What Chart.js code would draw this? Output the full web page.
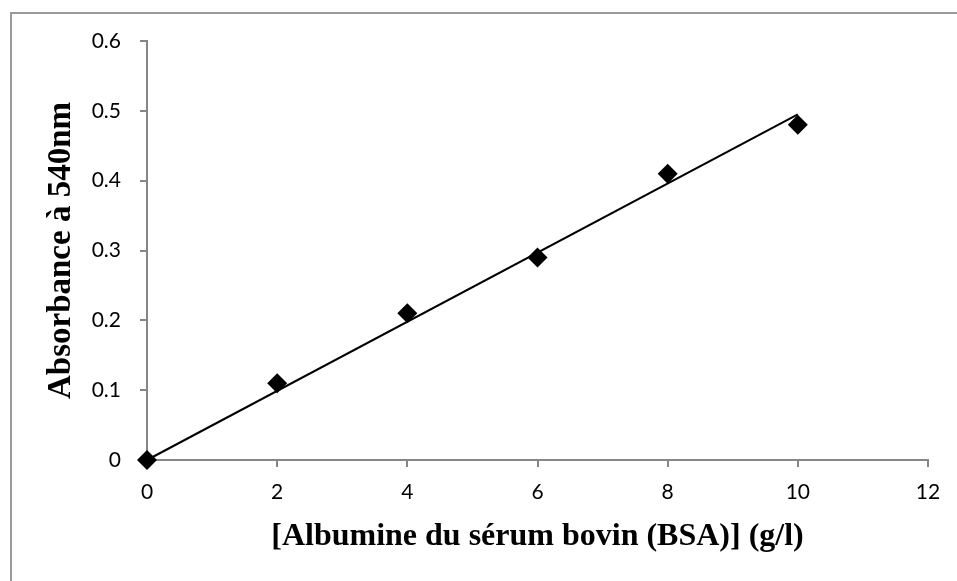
<!DOCTYPE html>
<html>
<head>
<meta charset="utf-8">
<script src="https://cdn.jsdelivr.net/npm/chart.js@4"></script>
<style>
  body { margin: 0; background: #fff; }
  #wrap { position: relative; width: 957px; height: 581px; overflow: hidden; }
  #frame { position: absolute; left: 10px; top: 12px; width: 1000px; height: 1000px;
           border-left: 2px solid #9a9a9a; border-top: 2px solid #9a9a9a; pointer-events: none; }
</style>
</head>
<body>
<div id="wrap">
  <canvas id="graph" width="957" height="581"></canvas>
  <div id="frame"></div>
</div>
<script>
// concentration BSA (g/l) and measured absorbance
var concX = [0, 2, 4, 6, 8, 10];
var absorb = [0, 0.11, 0.21, 0.29, 0.41, 0.48];
// linear trendline end points
var trendX = [0, 10];
var trendY = [0, 0.495];

var xTitle = '[Albumine du sérum bovin (BSA)] (g/l)';
var yTitle = 'Absorbance à 540nm';

var axisGray = '#868686';
var tickFont = { family: 'Lato', size: 21 };

var pts = concX.map(function (x, i) { return { x: x, y: absorb[i] }; });
var line = trendX.map(function (x, i) { return { x: x, y: trendY[i] }; });

var g = document.getElementById('graph').getContext('2d');
var graph = new Chart(g, {
  type: 'scatter',
  data: {
    datasets: [
      {
        label: 'mesures',
        data: pts,
        pointStyle: 'rectRot',
        pointRadius: 10,
        backgroundColor: '#000',
        borderColor: '#000',
        borderWidth: 0,
        clip: false
      },
      {
        label: 'tendance',
        data: line,
        showLine: true,
        borderColor: '#000',
        borderWidth: 2,
        pointRadius: 0,
        clip: false
      }
    ]
  },
  options: {
    responsive: false,
    animation: false,
    layout: { padding: { top: 41, right: 29, left: 0, bottom: 0 } },
    plugins: { legend: { display: false }, tooltip: { enabled: false } },
    scales: {
      x: {
        type: 'linear',
        min: 0, max: 12,
        ticks: { stepSize: 2, color: '#000', font: tickFont, padding: 13, maxRotation: 0 },
        grid: { drawOnChartArea: false, drawTicks: true, tickLength: 7, color: axisGray, lineWidth: 2 },
        border: { display: true, color: axisGray, width: 2 },
        title: {
          display: true, text: xTitle, color: '#000',
          font: { family: 'Liberation Serif', size: 32, weight: 'bold' },
          padding: { top: 0, bottom: 25 }
        },
        afterFit: function (s) { s.height = 121; }
      },
      y: {
        type: 'linear',
        min: 0, max: 0.6,
        ticks: {
          stepSize: 0.1, color: '#000', font: tickFont, padding: 19,
          callback: function (v) { return v === 0 ? '0' : v.toFixed(1); }
        },
        grid: { drawOnChartArea: false, drawTicks: true, tickLength: 7, color: axisGray, lineWidth: 2 },
        border: { display: true, color: axisGray, width: 2 },
        title: {
          display: true, text: yTitle, color: '#000',
          font: { family: 'Liberation Serif', size: 33, weight: 'bold' },
          padding: { top: 42, bottom: 0 }
        },
        afterFit: function (s) { s.width = 147; }
      }
    }
  }
});
</script>
</body>
</html>
